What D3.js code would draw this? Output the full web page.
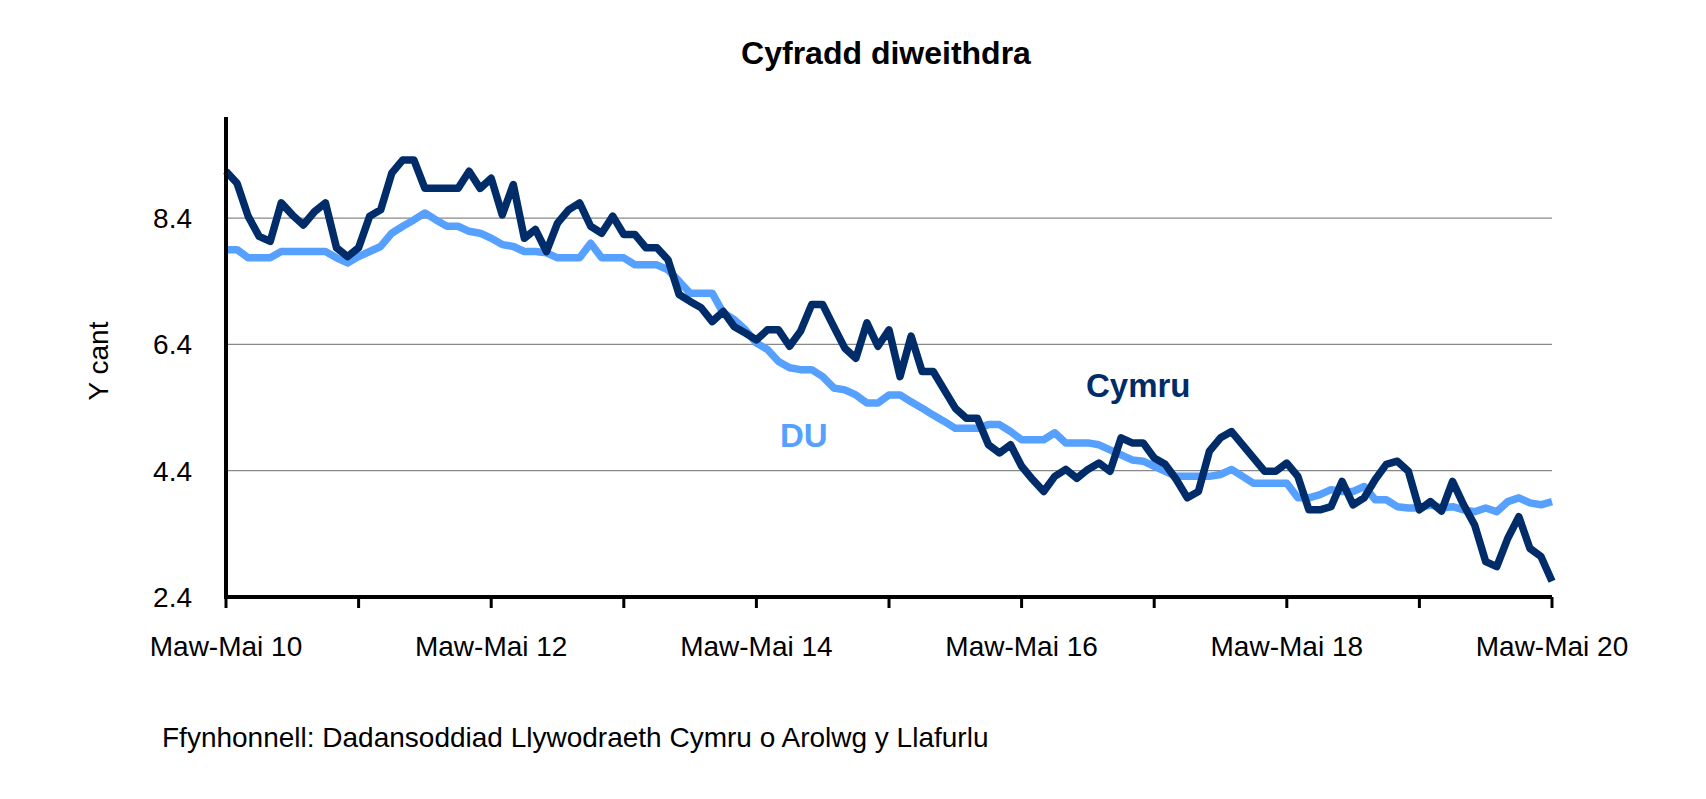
<!DOCTYPE html>
<html>
<head>
<meta charset="utf-8">
<script src="https://cdn.jsdelivr.net/npm/d3@7"></script>
<style>
  body { margin: 0; background: #fff; }
  text { font-family: "Liberation Sans", Arial, sans-serif; }
</style>
</head>
<body>
<svg id="chart" width="1706" height="799"></svg>
<script>
// Cyfradd diweithdra - Cymru v DU, Maw-Mai 10 to Maw-Mai 20 (rolling 3-month)

var cymru = [9.14,8.95,8.43,8.11,8.03,8.64,8.45,8.29,8.5,8.64,
  7.93,7.79,7.93,8.43,8.53,9.11,9.32,9.32,8.87,8.87,
  8.87,8.87,9.14,8.87,9.03,8.45,8.93,8.08,8.22,7.87,
  8.32,8.53,8.64,8.27,8.16,8.43,8.14,8.14,7.93,7.93,
  7.74,7.19,7.08,6.98,6.76,6.92,6.68,6.58,6.47,6.63,
  6.63,6.37,6.61,7.03,7.03,6.68,6.34,6.18,6.74,6.37,
  6.63,5.89,6.53,5.97,5.97,5.68,5.39,5.23,5.23,4.81,
  4.68,4.81,4.47,4.26,4.07,4.31,4.42,4.28,4.42,4.52,
  4.39,4.92,4.84,4.84,4.6,4.5,4.26,3.97,4.07,4.71,
  4.92,5.02,4.81,4.6,4.39,4.39,4.52,4.31,3.78,3.78,
  3.83,4.23,3.86,3.97,4.26,4.5,4.55,4.39,3.78,3.91,
  3.76,4.23,3.86,3.54,2.96,2.88,3.33,3.67,3.17,3.04,
  2.65];

var du = [7.9,7.9,7.77,7.77,7.77,7.87,7.87,7.87,7.87,7.87,
  7.77,7.69,7.79,7.87,7.95,8.16,8.27,8.37,8.48,8.37,
  8.27,8.27,8.19,8.16,8.08,7.98,7.95,7.87,7.87,7.85,
  7.77,7.77,7.77,8.0,7.77,7.77,7.77,7.66,7.66,7.66,
  7.58,7.4,7.21,7.21,7.21,6.9,6.79,6.63,6.42,6.32,
  6.13,6.03,6.0,6.0,5.89,5.71,5.68,5.6,5.47,5.47,
  5.6,5.6,5.49,5.39,5.28,5.18,5.07,5.07,5.07,5.13,
  5.13,5.02,4.89,4.89,4.89,5.0,4.84,4.84,4.84,4.81,
  4.73,4.65,4.57,4.55,4.47,4.39,4.31,4.31,4.31,4.31,
  4.34,4.42,4.31,4.2,4.2,4.2,4.2,3.97,3.97,4.02,
  4.1,4.07,4.07,4.15,3.94,3.94,3.83,3.81,3.81,3.86,
  3.81,3.83,3.78,3.75,3.81,3.75,3.91,3.97,3.89,3.86,
  3.91];

var xTickLabels = ["Maw-Mai 10","Maw-Mai 12","Maw-Mai 14","Maw-Mai 16","Maw-Mai 18","Maw-Mai 20"];
var yTicks = [2.4, 4.4, 6.4, 8.4];

var svg = d3.select("#chart");
var plotLeft = 226, plotRight = 1552, plotTop = 117, plotBottom = 597;

var x = d3.scaleLinear().domain([0, cymru.length - 1]).range([plotLeft, plotRight]);
var y = d3.scaleLinear().domain([2.4, 10.0]).range([plotBottom, plotTop]);

// gridlines
svg.selectAll(".grid").data(yTicks.slice(1)).enter().append("line")
  .attr("x1", plotLeft).attr("x2", plotRight)
  .attr("y1", function(d){ return y(d); }).attr("y2", function(d){ return y(d); })
  .attr("stroke", "#888").attr("stroke-width", 1.2);

// y tick labels
svg.selectAll(".ylab").data(yTicks).enter().append("text")
  .attr("x", 192).attr("y", function(d){ return y(d) + 10; })
  .attr("text-anchor", "end").attr("font-size", 28)
  .text(function(d){ return d.toFixed(1); });

// x ticks every 12 months
var tickIdx = d3.range(0, 121, 12);
svg.selectAll(".xt").data(tickIdx).enter().append("line")
  .attr("x1", function(d){ return x(d); }).attr("x2", function(d){ return x(d); })
  .attr("y1", plotBottom).attr("y2", plotBottom + 11)
  .attr("stroke", "#000").attr("stroke-width", 3);

svg.selectAll(".xlab").data(xTickLabels).enter().append("text")
  .attr("x", function(d, i){ return x(i * 24); }).attr("y", 656)
  .attr("text-anchor", "middle").attr("font-size", 28)
  .text(function(d){ return d; });

// lines
var line = d3.line().x(function(d, i){ return x(i); }).y(function(d){ return y(d); });
svg.append("path").datum(du).attr("d", line)
  .attr("fill", "none").attr("stroke", "#56a0ff").attr("stroke-width", 7.5)
  .attr("stroke-linejoin", "round");
svg.append("path").datum(cymru).attr("d", line)
  .attr("fill", "none").attr("stroke", "#002d6a").attr("stroke-width", 7.5)
  .attr("stroke-linejoin", "round");

// axes
svg.append("line").attr("x1", plotLeft).attr("x2", plotLeft).attr("y1", plotTop).attr("y2", plotBottom + 2)
  .attr("stroke", "#000").attr("stroke-width", 4);
svg.append("line").attr("x1", plotLeft - 2).attr("x2", plotRight).attr("y1", plotBottom).attr("y2", plotBottom)
  .attr("stroke", "#000").attr("stroke-width", 4);

// series labels
svg.append("text").attr("x", 1086).attr("y", 397).attr("font-size", 33)
  .attr("font-weight", "bold").attr("fill", "#002d6a").text("Cymru");
svg.append("text").attr("x", 780).attr("y", 447).attr("font-size", 33)
  .attr("font-weight", "bold").attr("fill", "#56a0ff").text("DU");

// titles
svg.append("text").attr("x", 886).attr("y", 64).attr("text-anchor", "middle")
  .attr("font-size", 32).attr("font-weight", "bold").text("Cyfradd diweithdra");
svg.append("text").attr("transform", "translate(108,361) rotate(-90)")
  .attr("text-anchor", "middle").attr("font-size", 28).text("Y cant");
svg.append("text").attr("x", 162).attr("y", 747).attr("font-size", 28)
  .text("Ffynhonnell: Dadansoddiad Llywodraeth Cymru o Arolwg y Llafurlu");
</script>
</body>
</html>
